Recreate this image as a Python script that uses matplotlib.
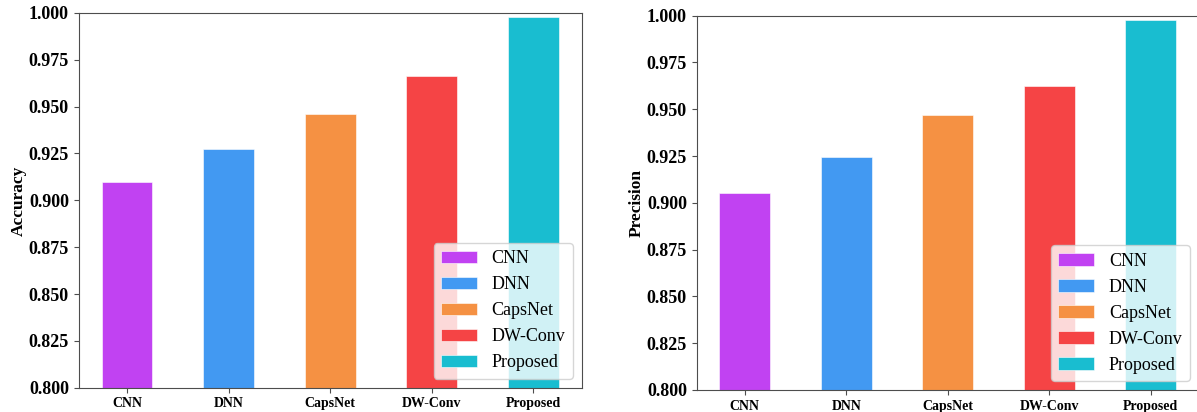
import matplotlib.pyplot as plt

models = ["CNN", "DNN", "CapsNet", "DW-Conv", "Proposed"]
accuracy = [0.9098, 0.9274, 0.9462, 0.9665, 0.9977]
precision = [0.9054, 0.9243, 0.9468, 0.9626, 0.9977]
colors = ["#c142f2", "#4299f2", "#f59143", "#f54445", "#19bdd0"]

plt.rcParams["font.family"] = ["Liberation Serif", "DejaVu Serif"]

fig = plt.figure(figsize=(11.97, 4.12), dpi=100)
ax1 = fig.add_axes([0.0657, 0.059, 0.4202, 0.9095])
ax2 = fig.add_axes([0.582, 0.0534, 0.4196, 0.9085])


def draw(ax, values, ylabel):
    ax.bar(models, values, width=0.5, color=colors, label=models,
           edgecolor="white", linewidth=0.4)
    ax.set_ylim(0.8, 1.0)
    ax.set_yticks([0.8 + 0.025 * i for i in range(9)])
    ax.set_yticklabels([f"{0.8 + 0.025 * i:.3f}" for i in range(9)],
                       fontsize=13, fontweight="bold")
    ax.set_xticks(range(len(models)))
    ax.set_xticklabels(models, fontsize=10, fontweight="bold")
    ax.set_ylabel(ylabel, fontsize=12.5, fontweight="bold", labelpad=1.5)
    for s in ax.spines.values():
        s.set_color("#4d4d4d")
    ax.tick_params(colors="#4d4d4d", labelcolor="black")
    ax.legend(loc="lower right", fontsize=13)


draw(ax1, accuracy, "Accuracy")
draw(ax2, precision, "Precision")

fig.savefig("out.png", dpi=100)
